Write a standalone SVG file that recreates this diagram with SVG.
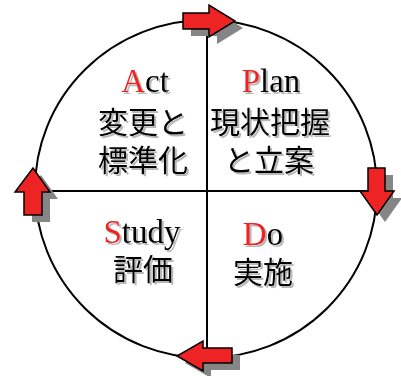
<svg xmlns="http://www.w3.org/2000/svg" width="401" height="376" viewBox="0 0 401 376">
<defs>
<filter id="ts" x="-10%" y="-10%" width="130%" height="130%">
<feDropShadow dx="2" dy="2" stdDeviation="0.6" flood-color="#9a9a9a" flood-opacity="0.7"/>
</filter>
</defs>
<style>
.frame{fill:#fff;stroke:#000;stroke-width:2}
.ln{stroke:#000;stroke-width:2;fill:none}
.arr{fill:#ee2424;stroke:#000;stroke-width:1.5;stroke-linejoin:miter}
.sh{fill:#858585}
.lat{font-family:"Liberation Serif","Times New Roman",serif;font-size:33px;text-anchor:middle;fill:#000}
.cjk{font-family:"Noto Sans CJK JP","Noto Sans",sans-serif;font-size:30px;text-anchor:middle;fill:#000}
.r{fill:#ee2424}
.lbl{filter:url(#ts)}
</style>
<rect width="401" height="376" fill="#fff"/>
<g id="frame">
<ellipse class="frame" cx="206" cy="189" rx="171" ry="169"/>
<line class="ln" x1="207" y1="20" x2="207" y2="358"/>
<line class="ln" x1="35" y1="191" x2="377" y2="191"/>
</g>
<g id="connectors">
<g id="arrow-top">
<polygon class="sh" transform="translate(8,7)" points="183,13 209,13 209,5 235,21 209,37 209,29 183,29"/>
<polygon class="arr" points="183,13 209,13 209,5 235,21 209,37 209,29 183,29"/>
</g>
<g id="arrow-right">
<polygon class="sh" transform="translate(8,7)" points="368,168 385,168 385,191 394,191 377,215 360,191 368,191"/>
<polygon class="arr" points="368,168 385,168 385,191 394,191 377,215 360,191 368,191"/>
</g>
<g id="arrow-bottom">
<polygon class="sh" transform="translate(8,7)" points="232,348 232,363 203,363 203,371 177,356 203,341 203,348"/>
<polygon class="arr" points="232,348 232,363 203,363 203,371 177,356 203,341 203,348"/>
</g>
<g id="arrow-left">
<polygon class="sh" transform="translate(8,7)" points="24,215 42,215 42,192 50,192 33,168 15,192 24,192"/>
<polygon class="arr" points="24,215 42,215 42,192 50,192 33,168 15,192 24,192"/>
</g>
</g>
<g id="act" class="lbl">
<text class="lat" x="145" y="92"><tspan class="r">A</tspan>ct</text>
<text class="cjk" x="143" y="133">変更と</text>
<text class="cjk" x="143" y="171">標準化</text>
</g>
<g id="plan" class="lbl">
<text class="lat" x="271" y="92"><tspan class="r">P</tspan>lan</text>
<text class="cjk" x="270" y="133">現状把握</text>
<text class="cjk" x="269" y="171">と立案</text>
</g>
<g id="study" class="lbl">
<text class="lat" x="142" y="243"><tspan class="r">S</tspan>tudy</text>
<text class="cjk" x="143" y="280">評価</text>
</g>
<g id="do" class="lbl">
<text class="lat" x="263" y="245"><tspan class="r">D</tspan>o</text>
<text class="cjk" x="263" y="283">実施</text>
</g>
</svg>
